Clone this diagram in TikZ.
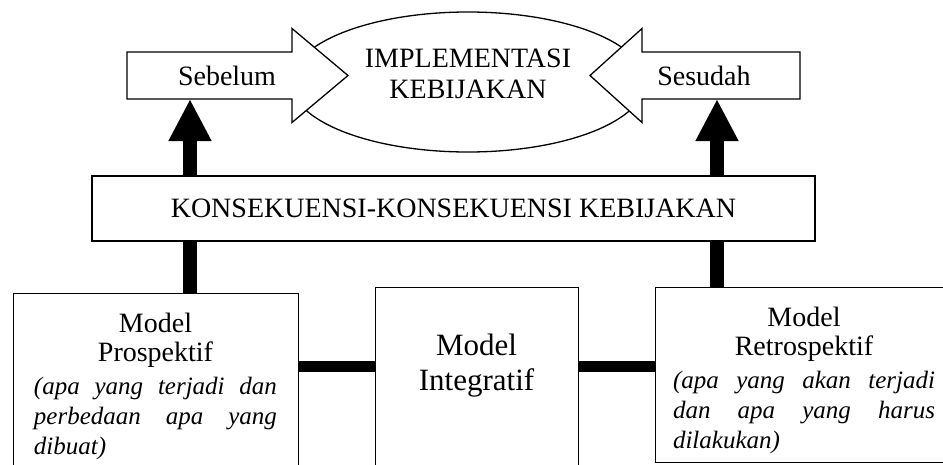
\documentclass[tikz,border=0pt]{standalone}
\usepackage{fontspec}
\setmainfont{Liberation Serif}
\usetikzlibrary{arrows.meta, shapes.geometric}

\begin{document}
\begin{tikzpicture}[x=1pt, y=-1pt, line join=miter,
    outline/.style={draw, line width=1.3pt},
    blockarrow/.style={outline, fill=white},
    bigarrow/.style={line width=14pt, -{Triangle[width=40pt, length=42pt]}},
    bar/.style={line width=11pt},
    toptext/.style={font=\fontsize{28}{31}\selectfont, inner sep=0pt},
    modeltext/.style={anchor=north, align=justify, inner sep=0pt}]
    \useasboundingbox (0,0) rectangle (943,464);
    \clip (0,0) rectangle (943,464);

    % implementasi
    \node[outline, ellipse, minimum width=354, minimum height=140] (impl) at (468,82) {};
    \node[toptext, align=center] (impltext) at (468,74) {IMPLEMENTASI\\KEBIJAKAN};

    % sebelum / sesudah
    \draw[blockarrow] (127,52) -- (292,52) -- (292,28.5) -- (348,75.5) -- (292,122.5) -- (292,99) -- (127,99) -- cycle;
    \draw[blockarrow] (800,52) -- (642,52) -- (642,28.5) -- (590,75.5) -- (642,122.5) -- (642,99) -- (800,99) -- cycle;
    \node[toptext] (sebelum) at (227,75.5) {Sebelum};
    \node[toptext] (sesudah) at (704,75.5) {Sesudah};
    \coordinate (sebbase) at (190,99);
    \coordinate (sesbase) at (717,99);

    \node[outline, toptext, minimum width=723, minimum height=65] (konsek) at (453.5,208.5) {KONSEKUENSI-KONSEKUENSI KEBIJAKAN};

    \draw[bigarrow] (konsek.north -| sebbase) -- (sebbase);
    \draw[bigarrow] (konsek.north -| sesbase) -- (sesbase);

    % model boxes
    \node[outline, minimum width=285, minimum height=187, anchor=north west] (prosbox) at (13,293) {};
    \node[outline, minimum width=203, minimum height=193, anchor=north west] (integbox) at (375,287) {};
    \node[outline, minimum width=300, minimum height=175, anchor=north west] (retrobox) at (655,287) {};

    \node[modeltext, text width=243] (prostext) at (155.5,313) {{\centering\fontsize{28}{29}\selectfont Model\\Prospektif\par}
        \fontsize{25}{30}\selectfont\itshape\vspace{3pt}(apa yang terjadi dan\linebreak perbedaan apa yang\linebreak dibuat)\par};
    \node[font=\fontsize{31}{35}\selectfont, align=center, inner sep=0pt] (integ) at (476.5,366) {Model\\Integratif};
    \node[modeltext, text width=262] (retrotext) at (804,307) {{\centering\fontsize{28}{29}\selectfont Model\\Retrospektif\par}
        \fontsize{25}{30}\selectfont\itshape\vspace{3pt}(apa yang akan terjadi\linebreak dan apa yang harus\linebreak dilakukan)\par};

    \draw[bar] (integ -| prosbox.east) -- (integ -| integbox.west);
    \draw[bar] (integ -| integbox.east) -- (integ -| retrobox.west);
    \draw[line width=14pt] (konsek.south -| sebbase) -- (prosbox.north -| sebbase);
    \draw[line width=14pt] (konsek.south -| sesbase) -- (retrobox.north -| sesbase);
\end{tikzpicture}
\end{document}
